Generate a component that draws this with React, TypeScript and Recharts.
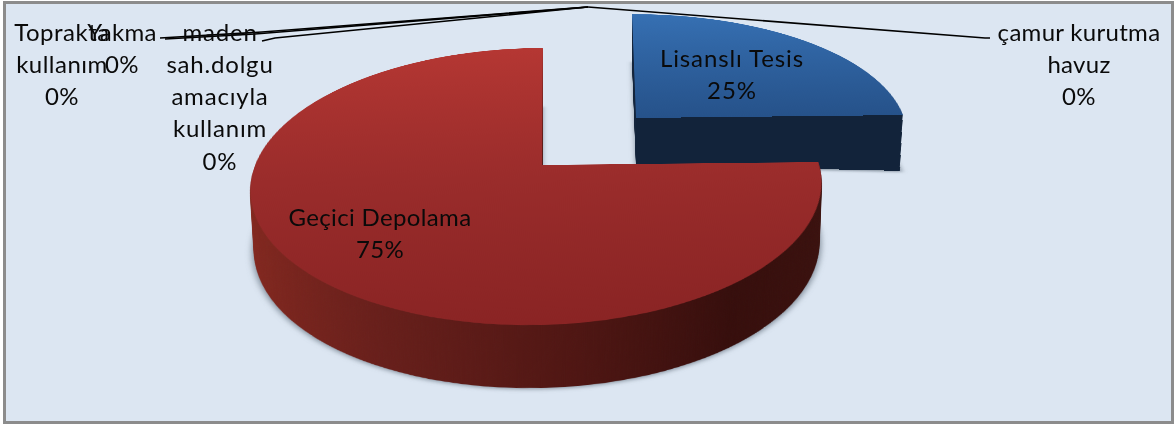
import React from "react";
import { PieChart, Pie, Cell } from "recharts";

const categories = ["Lisanslı Tesis", "Geçici Depolama", "Yakma", "Toprakta kullanım", "maden sah.dolgu amacıyla kullanım", "çamur kurutma havuz"];
const shares = [25, 75, 0, 0, 0, 0];
const data = categories.map((name, i) => ({ name, value: shares[i] }));

const R = 300;
const PAD = 2;
const SIZE = 2 * R + 2 * PAD;

type P = { cx: number; cy: number; A: number; B: number; C: number; D: number; m: number; k: number };
const redTop: P = { cx: 542, cy: 165, A: 282, B: 135.2, C: -1, D: -3, m: 0.0204, k: -0.155 };
const redBottom: P = { cx: 542, cy: 225, A: 279, B: 137.7, C: -1, D: -3, m: 0.018, k: -0.155 };
const blueTop: P = { cx: 636, cy: 118, A: 273.6, B: 120, C: 4.6, D: -3, m: 0.0246, k: -0.155 };
const blueBottom: P = { cx: 636, cy: 165, A: 270.5, B: 120, C: 4.6, D: 6, m: 0.0246, k: -0.155 };

const mix = (a: P, b: P, t: number): P => {
  const out: any = {};
  (Object.keys(a) as (keyof P)[]).forEach((key) => { out[key] = a[key] + (b[key] - a[key]) * t; });
  return out;
};
const toMatrix = ({ cx, cy, A, B, C, D, m, k }: P) => {
  const col1 = [(A + cx * m) / R, (D + cy * m) / R, 0, m / R];
  const col2 = [(C + cx * k) / R, (B + cy * k) / R, 0, k / R];
  return `matrix3d(${[...col1, ...col2, 0, 0, 1, 0, cx, cy, 0, 1].join(",")})`;
};

function Slice({ index, p, fill, extra }: { index: number; p: P; fill: string; extra?: React.CSSProperties }) {
  return (
    <div style={{ position: "absolute", left: -(R + PAD), top: -(R + PAD), width: SIZE, height: SIZE, transformOrigin: `${R + PAD}px ${R + PAD}px`, transform: toMatrix(p), ...extra }}>
      <PieChart width={SIZE} height={SIZE} margin={{ top: 0, right: 0, bottom: 0, left: 0 }}>
        <Pie data={data} dataKey="value" nameKey="name" cx={R + PAD} cy={R + PAD} innerRadius={0} outerRadius={R} startAngle={90} endAngle={-270} stroke="none" isAnimationActive={false} label={false} labelLine={false}>
          {data.map((_, i) => <Cell key={i} fill={i === index ? fill : "none"} stroke="none" />)}
        </Pie>
      </PieChart>
    </div>
  );
}

function Solid({ index, top, bottom, face, wall }: { index: number; top: P; bottom: P; face: string; wall: string }) {
  const steps = Math.round(bottom.cy - top.cy + 4);
  const layers = [];
  for (let s = steps; s >= 1; s--) layers.push(<Slice key={s} index={index} p={mix(top, bottom, s / steps)} fill={wall} />);
  return (
    <>
      <Slice index={index} p={{ ...bottom, cy: bottom.cy + 1, A: bottom.A + 2 }} fill="#3c4a58" extra={{ filter: "blur(3px)", opacity: 0.55 }} />
      {layers}
      <Slice index={index} p={top} fill={face} />
    </>
  );
}

type Place = { x: number; y: number; spacing: number; wordsPerLine: number[]; leader?: [number, number][] };
const placement: Place[] = [
  { x: 732, y: 57, spacing: 0.9, wordsPerLine: [2] },
  { x: 380, y: 216, spacing: 0.35, wordsPerLine: [2] },
  { x: 122, y: 31, spacing: 0.3, wordsPerLine: [1], leader: [[588, 7], [262, 32], [160, 38]] },
  { x: 62, y: 31, spacing: 0.5, wordsPerLine: [1, 1], leader: [[588, 7], [255, 34], [165, 39]] },
  { x: 220, y: 31, spacing: 0.8, wordsPerLine: [1, 1, 1, 1], leader: [[588, 7], [275, 38], [262, 41]] },
  { x: 1079, y: 31, spacing: 0.3, wordsPerLine: [2, 1], leader: [[588, 7], [985, 38], [990, 38]] },
];
const LINE = 32.3;
const FONT = 24;

const renderLabel = (props: any) => {
  const i = props.index as number;
  const place = placement[i];
  const words = categories[i].split(" ");
  const lines: string[] = [];
  let at = 0;
  place.wordsPerLine.forEach((n) => { lines.push(words.slice(at, at + n).join(" ")); at += n; });
  lines.push(`${shares[i]}%`);
  return (
    <g key={i}>
      {place.leader && <polyline points={place.leader.map((q) => q.join(",")).join(" ")} fill="none" stroke="#000" strokeWidth={1.6} />}
      {lines.map((t, j) => (
        <text key={j} x={place.x} y={place.y + j * LINE} textAnchor="middle" dominantBaseline="central" fontFamily="Lato" fontSize={FONT} letterSpacing={place.spacing} fill="#0a0a0a">{t}</text>
      ))}
    </g>
  );
};

export default function App() {
  return (
    <div style={{ position: "absolute", left: 0, top: 0, width: 1176, height: 425, overflow: "hidden", background: "#fff" }}>
      <svg width={0} height={0} style={{ position: "absolute" }}>
        <defs>
          <linearGradient id="redFace" x1="0" y1="0" x2="0" y2="1">
            <stop offset="0" stopColor="#b53733" />
            <stop offset="0.55" stopColor="#9a2c2b" />
            <stop offset="1" stopColor="#8a2424" />
          </linearGradient>
          <linearGradient id="redWall" x1="0" y1="0" x2="1" y2="0">
            <stop offset="0" stopColor="#84281f" />
            <stop offset="0.25" stopColor="#681f1b" />
            <stop offset="0.55" stopColor="#4f1613" />
            <stop offset="0.8" stopColor="#360e0c" />
            <stop offset="1" stopColor="#3a110e" />
          </linearGradient>
          <linearGradient id="blueFace" x1="0" y1="0" x2="0" y2="1">
            <stop offset="0" stopColor="#3670b3" />
            <stop offset="1" stopColor="#26528a" />
          </linearGradient>
        </defs>
      </svg>
      <div style={{ position: "absolute", left: 3, top: 1, width: 1171, height: 423, boxSizing: "border-box", border: "3px solid #8c8c8c", background: "#dce6f2" }} />
      <Solid index={0} top={blueTop} bottom={blueBottom} face="url(#blueFace)" wall="#12233a" />
      <Solid index={1} top={redTop} bottom={redBottom} face="url(#redFace)" wall="url(#redWall)" />
      <div style={{ position: "absolute", left: 0, top: 0 }}>
        <PieChart width={1176} height={425} margin={{ top: 0, right: 0, bottom: 0, left: 0 }}>
          <Pie data={data} dataKey="value" nameKey="name" cx={542} cy={165} outerRadius={1} startAngle={90} endAngle={-270} fill="none" stroke="none" isAnimationActive={false} label={renderLabel} labelLine={false} />
        </PieChart>
      </div>
    </div>
  );
}
